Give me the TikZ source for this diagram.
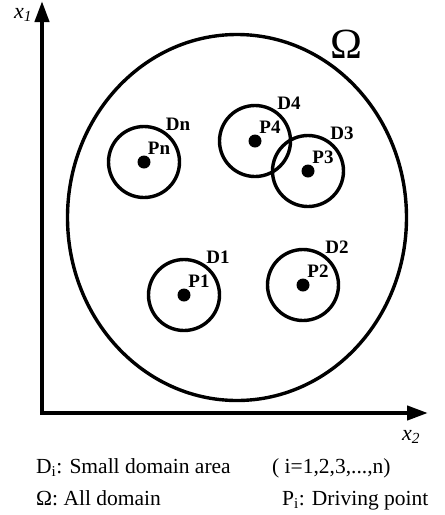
\documentclass[tikz,border=0pt]{standalone}
\usepackage{fontspec}
\setmainfont{Liberation Serif}
\usetikzlibrary{arrows.meta,positioning,calc,shapes.geometric}

\begin{document}
\begin{tikzpicture}[x=1pt,y=-1pt,
    subdomain/.style={circle,draw,line width=3.4pt,minimum size=71pt,inner sep=0pt},
    drivept/.style={circle,fill,minimum size=13pt,inner sep=0pt},
    tag/.style={font=\fontsize{19}{19}\selectfont\bfseries,inner sep=0pt},
    axislab/.style={font=\fontsize{22}{22}\selectfont\itshape,inner sep=0pt},
    legend/.style={font=\fontsize{21.5}{21.5}\selectfont,inner sep=0pt,anchor=base west}]
  \useasboundingbox (0,0) rectangle (445,515);
  % axes
  \coordinate (o) at (42,413);
  \coordinate (x1tip) at (42,1);
  \coordinate (x2tip) at (428,413);
  \draw[line width=4.2pt,{Triangle[length=21pt,width=14pt]}-{Triangle[length=21pt,width=14pt]}]
    (x1tip) -- (o) -- (x2tip);
  \node[axislab,anchor=base] (x1lab) at (23,18) {x\textsubscript{1}};
  \node[axislab,anchor=base] (x2lab) at (411,440) {x\textsubscript{2}};
  % whole domain
  \node[ellipse,draw,line width=3.4pt,minimum width=339pt,minimum height=366pt,inner sep=0pt]
    (omega) at (237,217.5) {};
  \node[font=\fontsize{43}{43}\selectfont,inner sep=0pt] (omegalab) at (346,44) {Ω};
  % small domains and driving points
  \foreach \i/\px/\py in {1/184/295,2/303/285,3/308/171,4/255/141,n/144/162}{
    \node[subdomain] (d\i) at (\px,\py) {};
    \node[drivept] (p\i) at (\px,\py) {};
    \node[tag] (dlab\i) at ([shift={(34,-38)}]d\i.center) {D\i};
    \node[tag] (plab\i) at ([shift={(15,-14)}]p\i.center) {P\i};
  }
  % legend
  \node[legend] (legdi) at (36,473) {D\textsubscript{i}: Small domain area};
  \node[legend] (legom) at (36,505) {Ω: All domain};
  \node[legend] (legrange) at (272,473) {( i=1,2,3,...,n)};
  \node[legend] (legpi) at (282,505) {P\textsubscript{i}: Driving point};
\end{tikzpicture}
\end{document}
